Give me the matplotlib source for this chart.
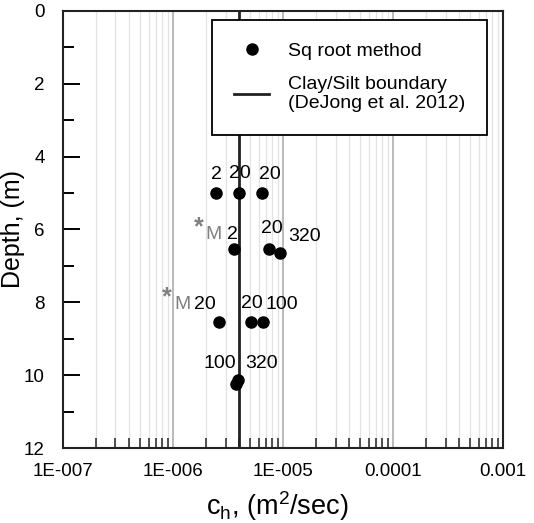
import numpy as np
import matplotlib
matplotlib.use("Agg")
import matplotlib.pyplot as plt
from matplotlib.ticker import FixedLocator, LogLocator, NullFormatter, MultipleLocator

plt.rcParams['font.family'] = ['Liberation Sans', 'DejaVu Sans']
plt.rcParams['mathtext.fontset'] = 'custom'
plt.rcParams['mathtext.rm'] = 'Liberation Sans'
plt.rcParams['mathtext.it'] = 'Liberation Sans'

# c_h from the square root method (m2/s) and depth (m)
ch = [2.45e-6, 4.0e-6, 6.4e-6,
      3.6e-6, 7.5e-6, 9.4e-6,
      2.6e-6, 5.1e-6, 6.6e-6,
      3.75e-6, 3.9e-6]
depth = [5.0, 5.0, 5.0,
         6.53, 6.53, 6.65,
         8.55, 8.55, 8.55,
         10.24, 10.13]

# clay/silt boundary (DeJong et al. 2012)
boundary_ch = 4.0e-6

# text labels next to the points: (text, x, y, colour)
labels = [("2", 2.46e-6, 4.50, "black"), ("20", 4.07e-6, 4.45, "black"), ("20", 7.6e-6, 4.50, "black"),
          ("M", 2.31e-6, 6.15, "gray"), ("2", 3.5e-6, 6.15, "black"),
          ("20", 7.94e-6, 5.96, "black"), ("320", 1.58e-5, 6.18, "black"),
          ("M", 1.21e-6, 8.07, "gray"), ("20", 1.95e-6, 8.07, "black"),
          ("20", 5.2e-6, 8.02, "black"), ("100", 9.8e-6, 8.07, "black"),
          ("100", 2.67e-6, 9.67, "black"), ("320", 6.44e-6, 9.67, "black")]
stars = [(1.72e-6, 5.95), (8.8e-7, 7.87)]

xtick_vals = [1e-7, 1e-6, 1e-5, 1e-4, 1e-3]
xtick_labels = ["1E-007", "1E-006", "1E-005", "0.0001", "0.001"]

fig = plt.figure(figsize=(5.34, 5.23), dpi=100)
ax = fig.add_axes([0.118, 0.1434, 0.824, 0.8356])

ax.plot(ch, depth, 'o', color='black', markersize=8, label="Sq root method", zorder=4)
ax.plot([boundary_ch, boundary_ch], [0, 12], color='#222222', lw=2,
        label="Clay/Silt boundary\n(DeJong et al. 2012)", zorder=3)

for txt, x, y, c in labels:
    ax.text(x, y, txt, color=c if c == "black" else "#808080", fontsize=14,
            ha='center', va='center', zorder=5)
for x, y in stars:
    ax.text(x, y, "*", color="#808080", fontsize=18, fontweight='bold',
            ha='center', va='center', zorder=5)

ax.set_xscale('log')
ax.set_xlim(1e-7, 1e-3)
ax.set_ylim(12, 0)

ax.xaxis.set_major_locator(FixedLocator(xtick_vals))
ax.set_xticklabels(xtick_labels)
ax.xaxis.set_minor_locator(LogLocator(base=10, subs=np.arange(2, 10)))
ax.xaxis.set_minor_formatter(NullFormatter())
ax.yaxis.set_major_locator(MultipleLocator(2))
ax.yaxis.set_minor_locator(MultipleLocator(1))

ax.grid(True, which='major', axis='x', color='#b4b4b4', lw=1.3, zorder=0)
ax.grid(True, which='minor', axis='x', color='#e3e3e3', lw=0.9, zorder=0)
ax.set_axisbelow(True)

ax.tick_params(axis='x', which='major', direction='in', length=0, labelsize=13.5, pad=11)
ax.tick_params(axis='x', which='minor', direction='in', length=7, width=1.2, color='#333333')
ax.tick_params(axis='y', which='major', direction='in', length=12, width=1.4, labelsize=13.5, pad=13)
ax.tick_params(axis='y', which='minor', direction='in', length=8, width=1.4)
ax.tick_params(top=False, right=False, which='both')

for s in ax.spines.values():
    s.set_linewidth(1.5)
    s.set_color('#222222')

ax.set_ylabel("Depth, (m)", fontsize=18)
ax.yaxis.set_label_coords(-0.086, 0.5)
ax.set_xlabel("c$_\\mathrm{h}$, (m$^\\mathrm{2}$/sec)", fontsize=19.5)
ax.xaxis.set_label_coords(0.487, -0.095)

leg = ax.legend(loc='upper right', bbox_to_anchor=(0.964, 0.979), borderaxespad=0,
                fontsize=14, frameon=True, fancybox=False, edgecolor='black',
                handlelength=1.8, borderpad=1.15, labelspacing=0.8, handletextpad=0.95)
leg.get_frame().set_linewidth(1.3)
leg.get_frame().set_alpha(1)

fig.savefig("out.png", dpi=100)
